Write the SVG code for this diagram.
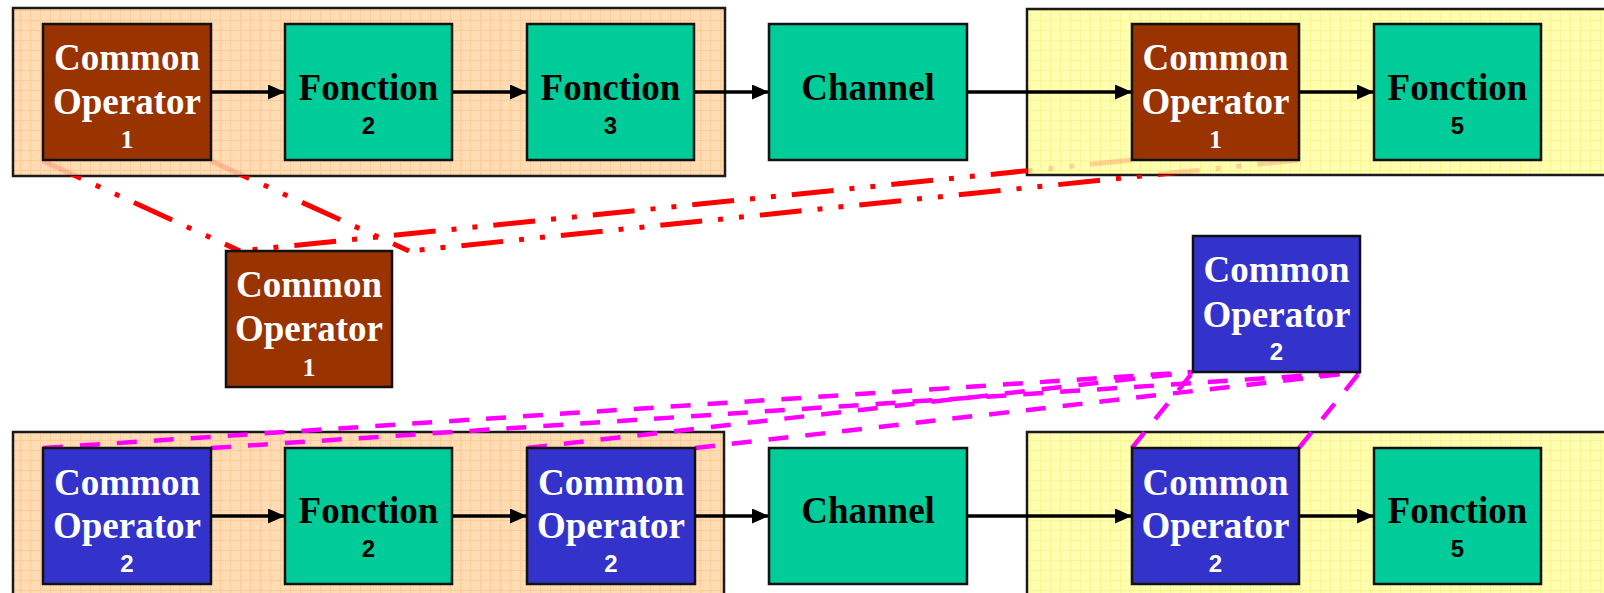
<svg xmlns="http://www.w3.org/2000/svg" width="1604" height="593" viewBox="0 0 1604 593">
<style>
.cont{stroke:#1a1a1a;stroke-width:2.5}
.node{stroke:#111;stroke-width:2.5}
.brown{fill:#993300}
.teal{fill:#00CC99}
.blue{fill:#3333CC}
.big{font-family:"Liberation Serif","Times New Roman",serif;font-weight:bold;font-size:37px;text-anchor:middle}
.numS{font-family:"Liberation Serif","Times New Roman",serif;font-weight:bold;font-size:26px;text-anchor:middle}
.num{font-family:"Liberation Sans",Arial,sans-serif;font-weight:bold;font-size:24px;text-anchor:middle}
.w{fill:#fff}
.k{fill:#000}
.arrow{stroke:#000;stroke-width:3.5;fill:none;marker-end:url(#ah)}
.red{stroke:#FF0000;stroke-width:5;fill:none;stroke-dasharray:42 16 5 16 5 16}
.mag{stroke:#FF00FF;stroke-width:4.5;fill:none;stroke-dasharray:20 17}
</style>
<defs>
<pattern id="gridO" width="10" height="10" patternUnits="userSpaceOnUse">
<rect width="10" height="10" fill="#FFDCB4"/>
<path d="M0 0.5H10M0.5 0V10" stroke="#FFCC99" stroke-width="1"/>
</pattern>
<pattern id="gridY" width="10" height="10" patternUnits="userSpaceOnUse">
<rect width="10" height="10" fill="#FFFFB2"/>
<path d="M0 0.5H10M0.5 0V10" stroke="#FBF490" stroke-width="1"/>
</pattern>
<marker id="ah" markerWidth="17" markerHeight="15" refX="17" refY="7.5" orient="auto" markerUnits="userSpaceOnUse">
<path d="M0 0L17 7.5L0 15Z" fill="#000"/>
</marker>
<mask id="fade" maskUnits="userSpaceOnUse" x="0" y="0" width="1604" height="593">
<rect width="1604" height="593" fill="#fff"/>
<rect x="13" y="8" width="712" height="168" fill="#2c2c2c"/>
<rect x="1027" y="9" width="600" height="166" fill="#2c2c2c"/>
</mask>
</defs>
<rect width="1604" height="593" fill="#fff"/>

<g id="containers">
<rect id="cont-top-left" class="cont" x="13" y="8" width="712" height="168" fill="url(#gridO)"/>
<rect id="cont-top-right" class="cont" x="1027" y="9" width="600" height="166" fill="url(#gridY)"/>
<rect id="cont-bot-left" class="cont" x="13" y="432" width="711" height="180" fill="url(#gridO)"/>
<rect id="cont-bot-right" class="cont" x="1027" y="432" width="600" height="180" fill="url(#gridY)"/>
</g>

<g id="connectors">
<g mask="url(#fade)">
<line class="red" x1="43" y1="161" x2="240" y2="251"/>
<line class="red" x1="211" y1="161" x2="409" y2="251"/>
<line class="red" x1="1132" y1="160" x2="240" y2="251"/>
<line class="red" x1="1299" y1="160" x2="409" y2="251"/>
</g>
<line class="mag" x1="43" y1="448" x2="1193" y2="372"/>
<line class="mag" x1="211" y1="448" x2="1360" y2="372"/>
<line class="mag" x1="527" y1="448" x2="1193" y2="372"/>
<line class="mag" x1="695" y1="448" x2="1360" y2="372"/>
<line class="mag" x1="1132" y1="448" x2="1193" y2="372"/>
<line class="mag" x1="1299" y1="448" x2="1360" y2="372"/>
<line class="arrow" x1="211" y1="92" x2="285" y2="92"/>
<line class="arrow" x1="452" y1="92" x2="527" y2="92"/>
<line class="arrow" x1="694" y1="92" x2="769" y2="92"/>
<line class="arrow" x1="967" y1="92" x2="1132" y2="92"/>
<line class="arrow" x1="1299" y1="92" x2="1374" y2="92"/>
<line class="arrow" x1="211" y1="516" x2="285" y2="516"/>
<line class="arrow" x1="452" y1="516" x2="527" y2="516"/>
<line class="arrow" x1="695" y1="516" x2="769" y2="516"/>
<line class="arrow" x1="967" y1="516" x2="1132" y2="516"/>
<line class="arrow" x1="1299" y1="516" x2="1374" y2="516"/>
</g>

<g id="co1-top-left">
<rect class="node brown" x="43" y="24" width="168" height="136"/>
<text class="big w" x="127" y="70">Common</text>
<text class="big w" x="127" y="114">Operator</text>
<text class="numS w" x="127" y="148">1</text>
</g>
<g id="f2-top">
<rect class="node teal" x="285" y="24" width="167" height="136"/>
<text class="big k" x="368.5" y="100">Fonction</text>
<text class="num k" x="368.5" y="134">2</text>
</g>
<g id="f3-top">
<rect class="node teal" x="527" y="24" width="167" height="136"/>
<text class="big k" x="610.5" y="100">Fonction</text>
<text class="num k" x="610.5" y="134">3</text>
</g>
<g id="channel-top">
<rect class="node teal" x="769" y="24" width="198" height="136"/>
<text class="big k" x="868" y="100">Channel</text>
</g>
<g id="co1-top-right">
<rect class="node brown" x="1132" y="24" width="167" height="136"/>
<text class="big w" x="1215.5" y="70">Common</text>
<text class="big w" x="1215.5" y="114">Operator</text>
<text class="numS w" x="1215.5" y="148">1</text>
</g>
<g id="f5-top">
<rect class="node teal" x="1374" y="24" width="167" height="136"/>
<text class="big k" x="1457.5" y="100">Fonction</text>
<text class="num k" x="1457.5" y="134">5</text>
</g>

<g id="co1-mid">
<rect class="node brown" x="226" y="251" width="166" height="136"/>
<text class="big w" x="309" y="297">Common</text>
<text class="big w" x="309" y="341">Operator</text>
<text class="numS w" x="309" y="376">1</text>
</g>
<g id="co2-mid">
<rect class="node blue" x="1193" y="236" width="167" height="136"/>
<text class="big w" x="1276.5" y="282">Common</text>
<text class="big w" x="1276.5" y="327">Operator</text>
<text class="num w" x="1276.5" y="360">2</text>
</g>

<g id="co2-bot-left">
<rect class="node blue" x="43" y="448" width="168" height="136"/>
<text class="big w" x="127" y="495">Common</text>
<text class="big w" x="127" y="538">Operator</text>
<text class="num w" x="127" y="572">2</text>
</g>
<g id="f2-bot">
<rect class="node teal" x="285" y="448" width="167" height="136"/>
<text class="big k" x="368.5" y="523">Fonction</text>
<text class="num k" x="368.5" y="557">2</text>
</g>
<g id="co2-bot-mid">
<rect class="node blue" x="527" y="448" width="168" height="136"/>
<text class="big w" x="611" y="495">Common</text>
<text class="big w" x="611" y="538">Operator</text>
<text class="num w" x="611" y="572">2</text>
</g>
<g id="channel-bot">
<rect class="node teal" x="769" y="448" width="198" height="136"/>
<text class="big k" x="868" y="523">Channel</text>
</g>
<g id="co2-bot-right">
<rect class="node blue" x="1132" y="448" width="167" height="136"/>
<text class="big w" x="1215.5" y="495">Common</text>
<text class="big w" x="1215.5" y="538">Operator</text>
<text class="num w" x="1215.5" y="572">2</text>
</g>
<g id="f5-bot">
<rect class="node teal" x="1374" y="448" width="167" height="136"/>
<text class="big k" x="1457.5" y="523">Fonction</text>
<text class="num k" x="1457.5" y="557">5</text>
</g>
</svg>
